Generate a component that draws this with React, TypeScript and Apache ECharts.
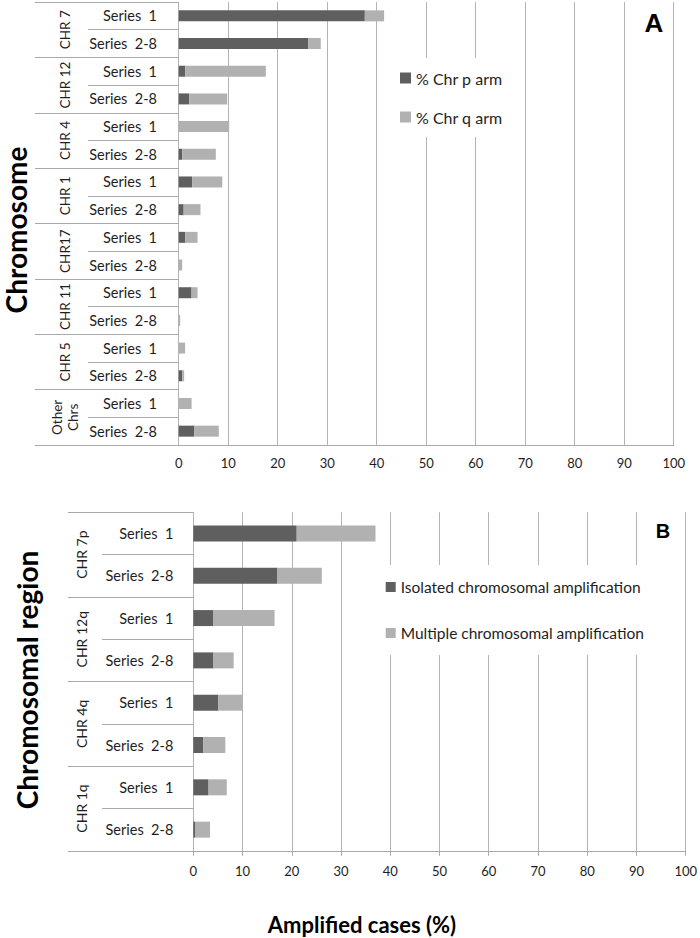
import React, { useEffect, useRef } from "react";
import * as echarts from "echarts";

// ---- Panel A data ----
const groupsA = ["CHR 7", "CHR 12", "CHR 4", "CHR 1", "CHR17", "CHR 11", "CHR 5", "Other\nChrs"];
const rowsA = [
  "Series  1", "Series  2-8", "Series  1", "Series  2-8", "Series  1", "Series  2-8", "Series  1", "Series  2-8",
  "Series  1", "Series  2-8", "Series  1", "Series  2-8", "Series  1", "Series  2-8", "Series  1", "Series  2-8",
];
const pArm = [37.6, 26.2, 1.3, 2.1, 0, 0.7, 2.7, 1.0, 1.3, 0, 2.6, 0, 0, 0.7, 0, 3.1];
const qArm = [3.9, 2.5, 16.3, 7.7, 10.2, 6.8, 6.1, 3.4, 2.5, 0.7, 1.2, 0.3, 1.3, 0.4, 2.6, 5.0];

// ---- Panel B data ----
const groupsB = ["CHR 7p", "CHR 12q", "CHR 4q", "CHR 1q"];
const rowsB = ["Series  1", "Series  2-8", "Series  1", "Series  2-8", "Series  1", "Series  2-8", "Series  1", "Series  2-8"];
const isolated = [21.0, 17.0, 4.1, 4.1, 5.1, 2.0, 3.1, 0.35];
const multiple = [16.0, 9.1, 12.4, 4.1, 4.9, 4.5, 3.7, 3.05];

const xTicks = [0, 100];

const DARK = "#5f5f5f";
const LIGHT = "#b1b1b1";
const GRIDC = "#b3b3b3";
const LINEC = "#a9a9a9";
const TXT = "#1e1e1e";
const FONT = "Lato, 'Open Sans', sans-serif";

export default function App() {
  const ref = useRef<HTMLDivElement>(null);
  useEffect(() => {
    if (!ref.current) return;
    const chart = echarts.init(ref.current, undefined, { renderer: "svg" });
    const xAxisBase = (gridIndex: number, ticks: boolean, margin: number) => ({
      type: "value",
      gridIndex,
      min: xTicks[0],
      max: xTicks[1],
      interval: 10,
      axisLine: { show: true, lineStyle: { color: LINEC, width: 1 } },
      axisTick: { show: ticks, length: 5, lineStyle: { color: LINEC } },
      axisLabel: { fontSize: 13, color: TXT, fontFamily: FONT, margin },
      splitLine: { show: true, lineStyle: { color: GRIDC, width: 1 } },
    });
    const option: any = {
      animation: false,
      backgroundColor: "#fff",
      textStyle: { fontFamily: FONT },
      grid: [
        { left: 178.7, right: 26.3, top: 2, height: 443, containLabel: false },
        { left: 193.3, right: 13.3, top: 512.3, height: 338.5, containLabel: false },
      ],
      xAxis: [xAxisBase(0, false, 11), xAxisBase(1, true, 14)],
      yAxis: [
        {
          type: "category",
          gridIndex: 0,
          data: rowsA,
          inverse: true,
          position: "left",
          axisLine: { show: false },
          axisTick: { show: true, length: 90.7, lineStyle: { color: LINEC } },
          axisLabel: { interval: 0, fontSize: 14.5, color: TXT, fontFamily: FONT, margin: 21.7, align: "right" },
        },
        {
          type: "category",
          gridIndex: 0,
          data: groupsA,
          inverse: true,
          position: "left",
          axisLine: { show: false },
          axisTick: { show: true, length: 143.7, lineStyle: { color: LINEC } },
          axisLabel: {
            interval: 0, fontSize: 13.5, color: TXT, fontFamily: FONT, margin: 113.7,
            rotate: 90, align: "center", verticalAlign: "middle", lineHeight: 16,
          },
        },
        {
          type: "category",
          gridIndex: 1,
          data: rowsB,
          inverse: true,
          position: "left",
          axisLine: { show: false },
          axisTick: { show: true, length: 91.3, lineStyle: { color: LINEC } },
          axisLabel: { interval: 0, fontSize: 14.5, color: TXT, fontFamily: FONT, margin: 20, align: "right" },
        },
        {
          type: "category",
          gridIndex: 1,
          data: groupsB,
          inverse: true,
          position: "left",
          axisLine: { show: false },
          axisTick: { show: true, length: 125.3, lineStyle: { color: LINEC } },
          axisLabel: {
            interval: 0, fontSize: 14, color: TXT, fontFamily: FONT, margin: 112,
            rotate: 90, align: "center", verticalAlign: "middle",
          },
        },
      ],
      legend: [
        {
          data: ["% Chr p arm", "% Chr q arm"],
          orient: "vertical",
          left: 386,
          top: 58,
          padding: [11, 14, 11, 14],
          itemGap: 21,
          itemWidth: 11,
          itemHeight: 11,
          icon: "rect",
          selectedMode: false,
          backgroundColor: "#fff",
          textStyle: { fontSize: 16, lineHeight: 18, color: TXT, fontFamily: FONT },
        },
        {
          data: ["Isolated chromosomal amplification", "Multiple chromosomal amplification"],
          orient: "vertical",
          left: 375.7,
          top: 565,
          padding: [13, 10, 13, 10],
          itemGap: 28,
          itemWidth: 10,
          itemHeight: 10,
          icon: "rect",
          selectedMode: false,
          backgroundColor: "#fff",
          textStyle: { fontSize: 15.5, lineHeight: 18, color: TXT, fontFamily: FONT },
        },
      ],
      series: [
        { name: "% Chr p arm", type: "bar", stack: "a", xAxisIndex: 0, yAxisIndex: 0, barWidth: 11, itemStyle: { color: DARK }, data: pArm },
        { name: "% Chr q arm", type: "bar", stack: "a", xAxisIndex: 0, yAxisIndex: 0, barWidth: 11, itemStyle: { color: LIGHT }, data: qArm },
        { name: "Isolated chromosomal amplification", type: "bar", stack: "b", xAxisIndex: 1, yAxisIndex: 2, barWidth: 16, itemStyle: { color: DARK }, data: isolated },
        { name: "Multiple chromosomal amplification", type: "bar", stack: "b", xAxisIndex: 1, yAxisIndex: 2, barWidth: 16, itemStyle: { color: LIGHT }, data: multiple },
      ],
      graphic: [
        {
          type: "text", x: 15.5, y: 230, rotation: Math.PI / 2,
          style: { text: "Chromosome", font: `bold 28px ${FONT}`, fill: "#000", align: "center", verticalAlign: "middle" },
        },
        {
          type: "text", x: 27, y: 680, rotation: Math.PI / 2,
          style: { text: "Chromosomal region", font: `bold 28px ${FONT}`, fill: "#000", align: "center", verticalAlign: "middle" },
        },
        {
          type: "text", x: 362, y: 924,
          style: { text: "Amplified cases (%)", font: `bold 22px ${FONT}`, fill: "#000", align: "center", verticalAlign: "middle" },
        },
        {
          type: "text", x: 654, y: 23,
          style: { text: "A", font: `bold 26px 'Liberation Sans', Arial, sans-serif`, fill: "#000", align: "center", verticalAlign: "middle" },
        },
        {
          type: "text", x: 663, y: 531,
          style: { text: "B", font: `bold 20px 'Liberation Sans', Arial, sans-serif`, fill: "#000", align: "center", verticalAlign: "middle" },
        },
      ],
    };
    chart.setOption(option);
    return () => chart.dispose();
  }, []);
  return <div ref={ref} style={{ position: "fixed", left: 0, top: 0, width: 700, height: 938 }} />;
}
